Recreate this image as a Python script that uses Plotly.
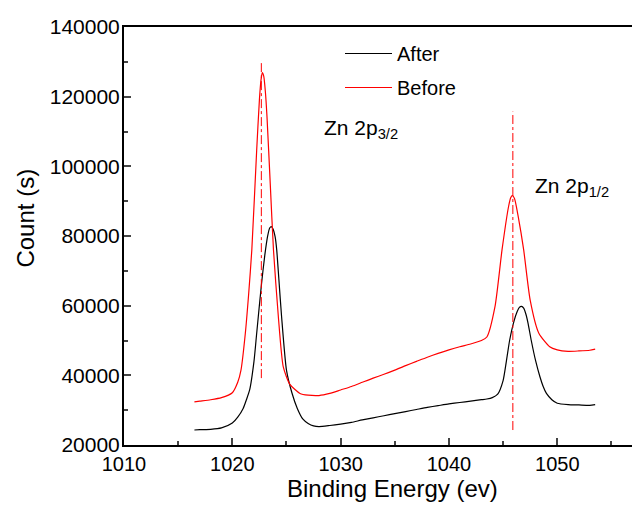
import plotly.graph_objects as go

# ---- data ----
after_x = [1016.5, 1017, 1018, 1019, 1020, 1020.5, 1021, 1021.3, 1021.6, 1022.0, 1022.25,
           1022.7, 1023.0, 1023.25, 1023.45, 1023.6, 1023.75, 1023.95, 1024.1, 1024.3, 1024.55,
           1025.0, 1025.5, 1026, 1026.5,
           1027, 1027.5, 1028, 1029, 1030, 1031, 1032, 1033, 1034, 1035, 1036, 1037, 1038,
           1039, 1040, 1041, 1042, 1043, 1043.5, 1044, 1044.5, 1045, 1045.3, 1045.6, 1046,
           1046.3, 1046.5, 1046.7, 1046.9, 1047.1, 1047.3, 1047.6, 1048, 1048.4, 1048.7, 1049,
           1049.5, 1050, 1051, 1052, 1053, 1053.5]
after_y = [24300, 24400, 24500, 24900, 26300, 28000, 30500, 33000, 35800, 44000, 52100,
           66400, 74500, 79800, 82300, 82700, 82100, 79800, 76000, 67500, 56800,
           41500, 35000, 30500, 27500,
           26200, 25500, 25300, 25600, 26000, 26500, 27200, 27800, 28400, 29000, 29600, 30200, 30800,
           31300, 31800, 32200, 32600, 33000, 33200, 33600, 34600, 38500, 44000, 50000, 55500,
           58300, 59500, 59800, 59300, 57600, 55000, 50000, 44200, 39600, 36800, 34800,
           33000, 32000, 31600, 31500, 31400, 31600]

before_x = [1016.5, 1017, 1018, 1019, 1020, 1020.5, 1020.8, 1021.2, 1021.5, 1021.8, 1022.25,
            1022.5, 1022.65, 1022.77, 1022.9, 1023.05, 1023.2, 1023.5, 1023.8, 1024.25, 1024.7,
            1025.3, 1026.25,
            1027, 1028, 1029, 1030, 1031, 1032, 1033, 1034, 1035, 1036, 1037, 1038, 1039,
            1040, 1041, 1042, 1043, 1043.5, 1044.25, 1044.9, 1045.5, 1045.7, 1045.85, 1046.05,
            1046.4, 1046.9, 1047.5, 1048.3, 1049.3, 1050, 1051, 1052, 1053, 1053.5]
before_y = [32400, 32600, 33000, 33600, 35000, 38000, 41500, 52000, 63000, 76000, 104700,
            119000, 124800, 126900, 125900, 121500, 114300, 95100, 76000, 56800, 42500,
            37500, 34800,
            34300, 34200, 34800, 35800, 36800, 38000, 39200, 40300, 41500, 42800, 44000, 45200, 46300,
            47300, 48200, 49000, 50000, 51000, 59700, 76000, 88400, 91000, 91600, 90800,
            85500, 76000, 61600, 52100, 48200, 47300, 46900, 47000, 47200, 47500]

# dash-dot marker lines at the peak positions
peak_line_x = [1022.68, 1045.9]
peak_line_y0 = [39200, 24300]
peak_line_y1 = [130500, 115700]

labels = ["Zn 2p<sub>3/2</sub>", "Zn 2p<sub>1/2</sub>"]
label_x = [1028.25, 1047.75]
label_y = [110800, 94200]

x_ticks = [1010, 1020, 1030, 1040, 1050]
y_ticks = [20000, 40000, 60000, 80000, 100000, 120000, 140000]

FONT = "Liberation Sans, Arial, sans-serif"

fig = go.Figure()
fig.add_trace(go.Scatter(x=after_x, y=after_y, mode="lines", name="After",
                         line=dict(color="black", width=1.2, shape="spline", smoothing=0.6),
                         legendgroup="a"))
fig.add_trace(go.Scatter(x=before_x, y=before_y, mode="lines", name="Before",
                         line=dict(color="red", width=1.2, shape="spline", smoothing=0.6),
                         legendgroup="b"))
for px, y0, y1 in zip(peak_line_x, peak_line_y0, peak_line_y1):
    fig.add_trace(go.Scatter(x=[px, px], y=[y0, y1], mode="lines", showlegend=False,
                             line=dict(color="red", width=1, dash="dashdot")))

for t, lx, ly in zip(labels, label_x, label_y):
    fig.add_annotation(x=lx, y=ly, text=t, showarrow=False, xanchor="left", yanchor="middle",
                       font=dict(family=FONT, size=21, color="black"))

# axis titles
fig.add_annotation(xref="paper", yref="paper", x=0.5285, y=-0.104, text="Binding Energy (ev)",
                   showarrow=False, xanchor="center", yanchor="middle",
                   font=dict(family=FONT, size=24, color="black"))
fig.add_annotation(xref="paper", yref="paper", x=-0.193, y=0.544, text="Count (s)",
                   showarrow=False, xanchor="center", yanchor="middle", textangle=-90,
                   font=dict(family=FONT, size=24, color="black"))

fig.update_layout(
    width=632, height=505,
    margin=dict(l=124, r=0, t=27, b=60),
    paper_bgcolor="white", plot_bgcolor="white",
    font=dict(family=FONT, size=20, color="black"),
    showlegend=True,
    legend=dict(x=(340 - 124) / 508, y=(445 - 34) / 418, xanchor="left", yanchor="top",
                bgcolor="rgba(0,0,0,0)", font=dict(family=FONT, size=20),
                itemwidth=47, tracegroupgap=5, traceorder="grouped"),
    xaxis=dict(range=[1010, 1056.9], tickvals=x_ticks, ticks="inside", ticklen=7, tickwidth=1.5,
               showline=True, linewidth=2, linecolor="black", mirror=True, showgrid=False,
               zeroline=False, tickfont=dict(family=FONT, size=20),
               minor=dict(dtick=5, ticks="inside", ticklen=4, tickwidth=1.5, showgrid=False)),
    yaxis=dict(range=[20000, 140000], tickvals=y_ticks, ticks="inside", ticklen=7, tickwidth=1.5,
               showline=True, linewidth=2, linecolor="black", mirror=False, showgrid=False,
               zeroline=False, tickfont=dict(family=FONT, size=21), tickformat="d",
               ticklabelstandoff=-2,
               minor=dict(dtick=10000, ticks="inside", ticklen=4, tickwidth=1.5, showgrid=False)),
)

fig.write_html("out.html")
